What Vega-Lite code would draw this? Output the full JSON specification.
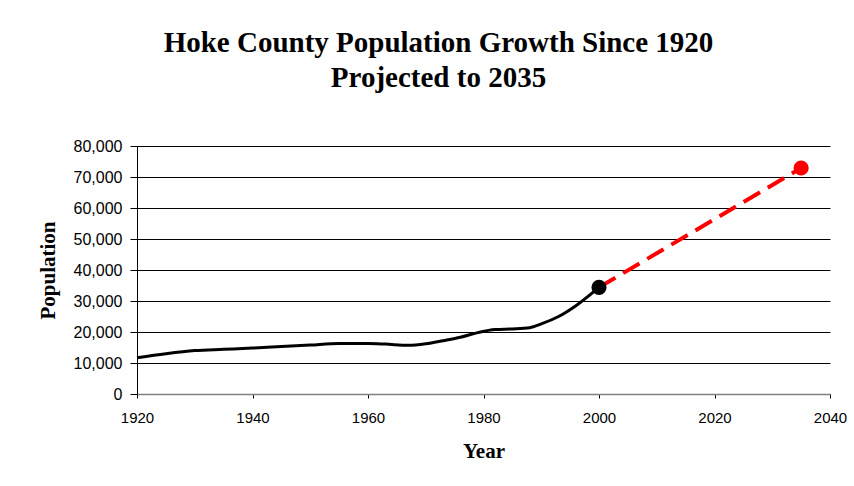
{
  "$schema": "https://vega.github.io/schema/vega-lite/v6.json",
  "width": 693,
  "height": 248,
  "autosize": "none",
  "padding": {"left": 137, "top": 146, "right": 24, "bottom": 92},
  "background": "white",
  "title": {
    "text": ["Hoke County Population Growth Since 1920", "Projected to 2035"],
    "font": "Liberation Serif",
    "fontSize": 29,
    "fontWeight": "bold",
    "color": "black",
    "lineHeight": 35,
    "anchor": "middle",
    "dx": -45,
    "offset": 45
  },
  "config": {
    "view": {"stroke": null},
    "axis": {
      "labelFont": "Liberation Sans",
      "labelColor": "black",
      "titleFont": "Liberation Serif",
      "titleFontSize": 21,
      "titleFontWeight": "bold",
      "titleColor": "black",
      "domainColor": "black",
      "tickColor": "black",
      "gridColor": "black",
      "gridOpacity": 1
    }
  },
  "data": {
    "values": [
      {"year": 1920, "pop": 11700, "series": "Actual"},
      {"year": 1925, "pop": 13000, "series": "Actual"},
      {"year": 1930, "pop": 14000, "series": "Actual"},
      {"year": 1935, "pop": 14400, "series": "Actual"},
      {"year": 1940, "pop": 14800, "series": "Actual"},
      {"year": 1945, "pop": 15300, "series": "Actual"},
      {"year": 1950, "pop": 15800, "series": "Actual"},
      {"year": 1955, "pop": 16300, "series": "Actual"},
      {"year": 1960, "pop": 16300, "series": "Actual"},
      {"year": 1963, "pop": 16100, "series": "Actual"},
      {"year": 1967, "pop": 15700, "series": "Actual"},
      {"year": 1970, "pop": 16200, "series": "Actual"},
      {"year": 1973, "pop": 17200, "series": "Actual"},
      {"year": 1976, "pop": 18300, "series": "Actual"},
      {"year": 1979, "pop": 19800, "series": "Actual"},
      {"year": 1982, "pop": 20800, "series": "Actual"},
      {"year": 1985, "pop": 21000, "series": "Actual"},
      {"year": 1988, "pop": 21400, "series": "Actual"},
      {"year": 1990, "pop": 22600, "series": "Actual"},
      {"year": 1993, "pop": 25000, "series": "Actual"},
      {"year": 1996, "pop": 28500, "series": "Actual"},
      {"year": 2000, "pop": 34400, "series": "Actual"},
      {"year": 2000, "pop": 34400, "series": "Projected"},
      {"year": 2035, "pop": 72900, "series": "Projected"}
    ]
  },
  "encoding": {
    "x": {
      "field": "year", "type": "quantitative",
      "scale": {"domain": [1920, 2040], "nice": false, "zero": false},
      "axis": {"values": [1920, 1940, 1960, 1980, 2000, 2020, 2040], "format": "d", "grid": false, "title": "Year", "titlePadding": 15, "labelPadding": 12, "tickSize": 4, "labelFontSize": 15, "labelFlush": false, "labelOverlap": false, "domainColor": "#808080", "domainWidth": 1.5}
    },
    "y": {
      "field": "pop", "type": "quantitative",
      "scale": {"domain": [0, 80000], "nice": false},
      "axis": {"values": [0, 10000, 20000, 30000, 40000, 50000, 60000, 70000, 80000], "format": ",d", "grid": true, "title": "Population", "titlePadding": 15, "labelPadding": 8, "tickSize": 7, "labelFontSize": 16, "labelFlush": false, "labelOverlap": false}
    }
  },
  "layer": [
    {
      "transform": [{"filter": "datum.series == 'Actual'"}],
      "mark": {"type": "line", "color": "black", "strokeWidth": 3, "interpolate": "monotone"}
    },
    {
      "transform": [{"filter": "datum.series == 'Projected'"}],
      "mark": {"type": "line", "color": "#ff0000", "strokeWidth": 4, "strokeDash": [19, 9]}
    },
    {
      "transform": [{"filter": "(datum.series == 'Actual' && datum.year == 2000) || (datum.series == 'Projected' && datum.year == 2035)"}],
      "mark": {"type": "circle", "size": 230, "opacity": 1},
      "encoding": {
        "color": {"field": "series", "type": "nominal", "scale": {"domain": ["Actual", "Projected"], "range": ["black", "#ff0000"]}, "legend": null}
      }
    }
  ]
}
